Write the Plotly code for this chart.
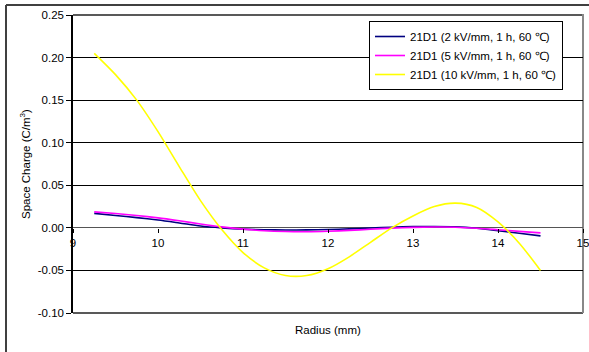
import plotly.graph_objects as go

# Radial positions (mm)
radius = [9.25, 9.5, 9.75, 10.0, 10.25, 10.5, 10.75, 11.0, 11.25, 11.5, 11.75,
          12.0, 12.25, 12.5, 12.75, 13.0, 13.25, 13.5, 13.75, 14.0, 14.25, 14.5]

# Space charge density (C/m^3) for each poling field
charge_2kv = [0.0170, 0.0145, 0.0120, 0.0092, 0.0058, 0.0022, 0.0000, -0.0015,
              -0.0022, -0.0025, -0.0024, -0.0020, -0.0012, -0.0002, 0.0008, 0.0014,
              0.0016, 0.0012, -0.0005, -0.0033, -0.0063, -0.0094]
charge_5kv = [0.0188, 0.0168, 0.0145, 0.0117, 0.0083, 0.0046, 0.0012, -0.0015,
              -0.0034, -0.0043, -0.0045, -0.0040, -0.0030, -0.0016, -0.0003, 0.0006,
              0.0010, 0.0008, -0.0004, -0.0022, -0.0041, -0.0059]
charge_10kv = [0.205, 0.180, 0.150, 0.113, 0.072, 0.032, -0.002, -0.029,
               -0.047, -0.056, -0.056, -0.048, -0.034, -0.017, 0.000, 0.014,
               0.025, 0.029, 0.024, 0.007, -0.018, -0.050]

series_names = ["21D1 (2 kV/mm, 1 h, 60 \u2103)",
                "21D1 (5 kV/mm, 1 h, 60 \u2103)",
                "21D1 (10 kV/mm, 1 h, 60 \u2103)"]
series_colors = ["#000080", "#FF00FF", "#FFFF00"]

x_ticks = [9, 10, 11, 12, 13, 14, 15]
x_tick_labels = ["9", "10", "11", "12", "13", "14", "15"]
y_ticks = [-0.10, -0.05, 0.00, 0.05, 0.10, 0.15, 0.20, 0.25]
y_tick_labels = ["-0.10", "-0.05", "0.00", "0.05", "0.10", "0.15", "0.20", "0.25"]

FONT = "Arial, Liberation Sans, sans-serif"
FS = 11.5
W, H = 589, 352
ML, MR, MT, MB = 73, 6, 15, 39
PW, PH = W - ML - MR, H - MT - MB


def px_x(px):
    return (px - ML) / PW


def px_y(py):
    return (H - MB - py) / PH


fig = go.Figure()
for ys, name, color in zip([charge_2kv, charge_5kv, charge_10kv], series_names, series_colors):
    fig.add_trace(go.Scatter(
        x=radius, y=ys, name=name, mode="lines",
        line=dict(color=color, width=1.6, shape="spline", smoothing=0.8),
    ))

y_lo, y_hi = y_ticks[0], y_ticks[-1]

fig.update_layout(
    width=W, height=H,
    margin=dict(l=ML, r=MR, t=MT, b=MB, autoexpand=False),
    paper_bgcolor="white", plot_bgcolor="white",
    font=dict(family=FONT, size=FS, color="black"),
    showlegend=True,
    legend=dict(
        x=px_x(369), y=px_y(21), xanchor="left", yanchor="top",
        bgcolor="white", bordercolor="black", borderwidth=1,
        font=dict(family=FONT, size=FS, color="black"),
        tracegroupgap=0,
    ),
    xaxis=dict(
        range=[9, 15], tickvals=x_ticks, ticktext=x_tick_labels,
        anchor="free", position=(0 - y_lo) / (y_hi - y_lo),
        showgrid=False, zeroline=False, showline=False,
        ticks="outside", ticklen=4, tickcolor="black", tickwidth=1,
        ticklabeloverflow="allow", automargin=False,
        tickfont=dict(family=FONT, size=FS, color="black"),
    ),
    yaxis=dict(
        range=[y_lo, y_hi], tickvals=y_ticks, ticktext=y_tick_labels,
        showgrid=True, gridcolor="black", gridwidth=1,
        zeroline=True, zerolinecolor="#555555", zerolinewidth=1,
        showline=True, linecolor="black", linewidth=1.5,
        ticks="outside", ticklen=5, tickcolor="black", tickwidth=1,
        automargin=False,
        tickfont=dict(family=FONT, size=FS, color="black"),
    ),
    annotations=[
        dict(text="Space Charge (C/m<sup>3</sup>)", x=px_x(25), y=0.5,
             xref="paper", yref="paper", textangle=-90, showarrow=False,
             xanchor="center", yanchor="middle",
             font=dict(family=FONT, size=FS, color="black")),
        dict(text="Radius (mm)", x=0.5, y=px_y(330),
             xref="paper", yref="paper", showarrow=False,
             xanchor="center", yanchor="middle",
             font=dict(family=FONT, size=FS, color="black")),
    ],
    shapes=[
        # plot area border
        dict(type="line", xref="paper", yref="paper", x0=0, x1=1, y0=1, y1=1,
             line=dict(color="#222222", width=1.5), layer="below"),
        dict(type="line", xref="paper", yref="paper", x0=0, x1=1, y0=0, y1=0,
             line=dict(color="#222222", width=1.5), layer="below"),
        dict(type="line", xref="paper", yref="paper", x0=1, x1=1, y0=0, y1=px_y(14),
             line=dict(color="#888888", width=2), layer="below"),
        # outer chart frame (left and top edges)
        dict(type="line", xref="paper", yref="paper", x0=px_x(6), x1=px_x(6),
             y0=px_y(5), y1=px_y(352), line=dict(color="#404040", width=2)),
        dict(type="line", xref="paper", yref="paper", x0=px_x(6), x1=px_x(589),
             y0=px_y(5), y1=px_y(5), line=dict(color="#404040", width=2)),
    ],
)

fig.write_html("out.html")
